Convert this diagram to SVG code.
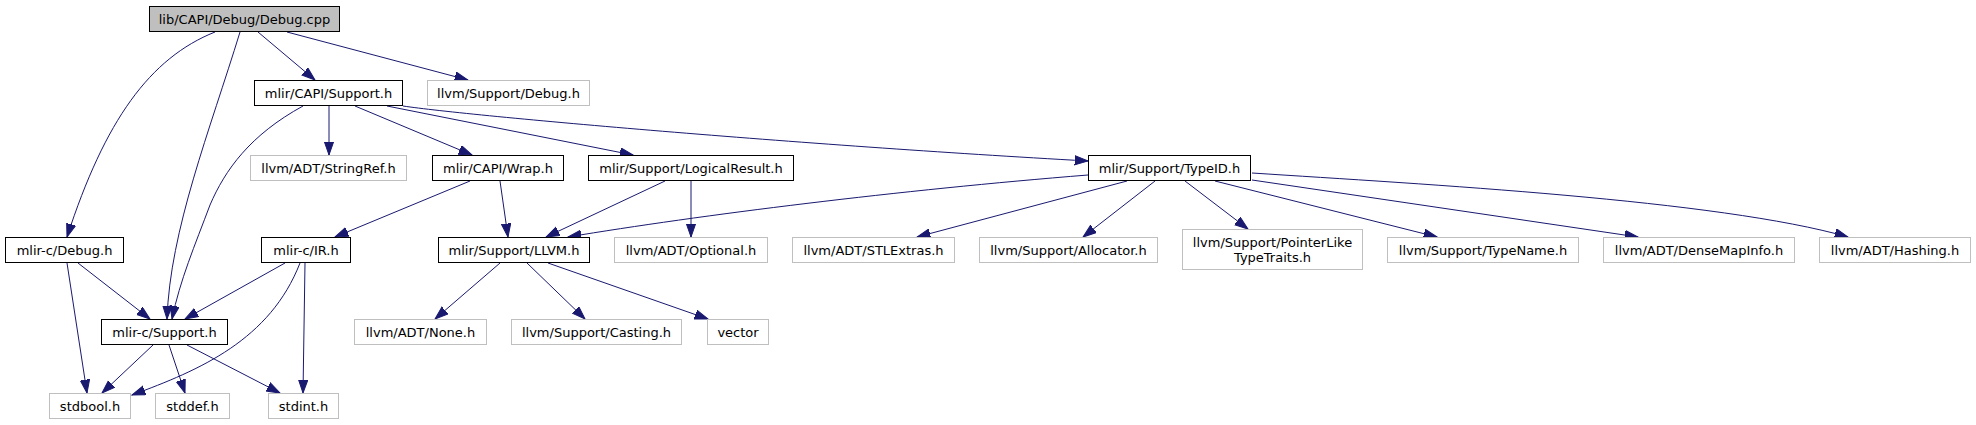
<svg xmlns="http://www.w3.org/2000/svg" width="1976" height="425" viewBox="0 0 1976 425">
<defs>
<style>
.n rect{fill:#fff;stroke:#000;stroke-width:1}
.g rect{fill:#fff;stroke:#bfbfbf;stroke-width:1}
.root rect{fill:#bfbfbf;stroke:#000;stroke-width:1}
text{font-family:"DejaVu Sans","Liberation Sans",sans-serif;font-size:13px;fill:#000;text-anchor:middle}
.e path{fill:none;stroke:#191970;stroke-width:1;marker-end:url(#ah)}
</style>
<marker id="ah" markerUnits="userSpaceOnUse" markerWidth="16" markerHeight="12" refX="13.3" refY="5" orient="auto">
<path d="M0,0.33 L13.3,5 L0,9.67 z" fill="#191970" stroke="#191970" stroke-width="1"/>
</marker>
</defs>
<rect width="1976" height="425" fill="#fff"/>
<g id="connectors" class="e">
<path d="M215,32 C150,58 105,120 67,237"/>
<path d="M240,32 C210,130 170,230 167,319"/>
<path d="M258,32 L315,80"/>
<path d="M287,32 L468,80"/>
<path d="M329,106 L329,155"/>
<path d="M355,106 L472,155"/>
<path d="M387,106 L633,155"/>
<path d="M403,106 C470,116 800,145 1088,161"/>
<path d="M303,106 C250,135 225,170 210,205 C195,245 180,280 172,319"/>
<path d="M470,181 L335,237"/>
<path d="M500,181 L508,237"/>
<path d="M665,181 L546,237"/>
<path d="M691,181 L691,237"/>
<path d="M1088,175 C900,190 700,215 568,237"/>
<path d="M1127,181 L917,237"/>
<path d="M1155,181 L1083,237"/>
<path d="M1185,181 L1248,229"/>
<path d="M1215,181 L1437,237"/>
<path d="M1252,180 L1638,237"/>
<path d="M1252,173 C1420,184 1720,200 1848,237"/>
<path d="M500,263 L435,319"/>
<path d="M527,263 L585,319"/>
<path d="M548,263 L708,319"/>
<path d="M67,263 L87,393"/>
<path d="M78,263 L150,319"/>
<path d="M285,263 L185,319"/>
<path d="M300,263 C270,340 200,370 132,395"/>
<path d="M305,263 L303,393"/>
<path d="M153,345 L102,393"/>
<path d="M169,345 L185,393"/>
<path d="M187,345 L280,393"/>
</g>
<g id="node0" class="root"><rect x="149.5" y="6.5" width="190" height="25"/><text x="244.5" y="24">lib/CAPI/Debug/Debug.cpp</text></g>
<g id="node1" class="n"><rect x="254.5" y="80.5" width="148" height="25"/><text x="328.5" y="98">mlir/CAPI/Support.h</text></g>
<g id="node2" class="g"><rect x="427.5" y="80.5" width="162" height="25"/><text x="508.5" y="98">llvm/Support/Debug.h</text></g>
<g id="node3" class="g"><rect x="250.5" y="155.5" width="156" height="25"/><text x="328.5" y="173">llvm/ADT/StringRef.h</text></g>
<g id="node4" class="n"><rect x="432.5" y="155.5" width="131" height="25"/><text x="498" y="173">mlir/CAPI/Wrap.h</text></g>
<g id="node5" class="n"><rect x="588.5" y="155.5" width="205" height="25"/><text x="691" y="173">mlir/Support/LogicalResult.h</text></g>
<g id="node6" class="n"><rect x="1088.5" y="155.5" width="162" height="25"/><text x="1169.5" y="173">mlir/Support/TypeID.h</text></g>
<g id="node7" class="n"><rect x="5.5" y="237.5" width="118" height="25"/><text x="64.5" y="255">mlir-c/Debug.h</text></g>
<g id="node8" class="n"><rect x="261.5" y="237.5" width="89" height="25"/><text x="306" y="255">mlir-c/IR.h</text></g>
<g id="node9" class="n"><rect x="438.5" y="237.5" width="151" height="25"/><text x="514" y="255">mlir/Support/LLVM.h</text></g>
<g id="node10" class="g"><rect x="614.5" y="237.5" width="153" height="25"/><text x="691" y="255">llvm/ADT/Optional.h</text></g>
<g id="node11" class="g"><rect x="792.5" y="237.5" width="162" height="25"/><text x="873.5" y="255">llvm/ADT/STLExtras.h</text></g>
<g id="node12" class="g"><rect x="979.5" y="237.5" width="178" height="25"/><text x="1068.5" y="255">llvm/Support/Allocator.h</text></g>
<g id="node13" class="g"><rect x="1182.5" y="229.5" width="180" height="40"/><text x="1272.5" y="246.5">llvm/Support/PointerLike</text><text x="1272.5" y="261.5">TypeTraits.h</text></g>
<g id="node14" class="g"><rect x="1387.5" y="237.5" width="191" height="25"/><text x="1483" y="255">llvm/Support/TypeName.h</text></g>
<g id="node15" class="g"><rect x="1603.5" y="237.5" width="191" height="25"/><text x="1699" y="255">llvm/ADT/DenseMapInfo.h</text></g>
<g id="node16" class="g"><rect x="1819.5" y="237.5" width="151" height="25"/><text x="1895" y="255">llvm/ADT/Hashing.h</text></g>
<g id="node17" class="n"><rect x="101.5" y="319.5" width="126" height="25"/><text x="164.5" y="337">mlir-c/Support.h</text></g>
<g id="node18" class="g"><rect x="354.5" y="319.5" width="132" height="25"/><text x="420.5" y="337">llvm/ADT/None.h</text></g>
<g id="node19" class="g"><rect x="511.5" y="319.5" width="170" height="25"/><text x="596.5" y="337">llvm/Support/Casting.h</text></g>
<g id="node20" class="g"><rect x="707.5" y="319.5" width="61" height="25"/><text x="738" y="337">vector</text></g>
<g id="node21" class="g"><rect x="49.5" y="393.5" width="81" height="25"/><text x="90" y="411">stdbool.h</text></g>
<g id="node22" class="g"><rect x="155.5" y="393.5" width="74" height="25"/><text x="192.5" y="411">stddef.h</text></g>
<g id="node23" class="g"><rect x="268.5" y="393.5" width="70" height="25"/><text x="303.5" y="411">stdint.h</text></g>
</svg>
